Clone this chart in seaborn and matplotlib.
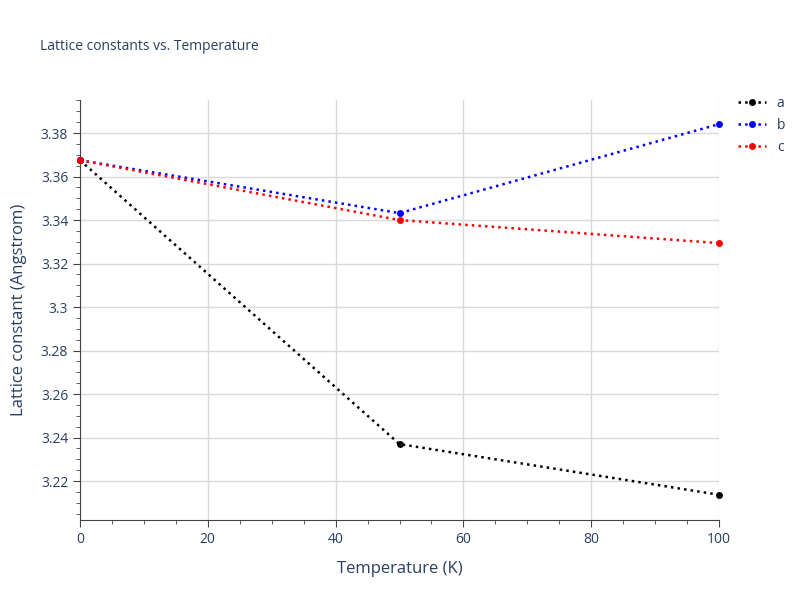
import matplotlib
matplotlib.use("Agg")
import matplotlib.pyplot as plt
import seaborn as sns
import pandas as pd
from matplotlib.ticker import MultipleLocator

temperature = [0, 50, 100]
a_values = [3.3675, 3.237, 3.2137]
b_values = [3.3675, 3.3432, 3.3841]
c_values = [3.3675, 3.3400, 3.3294]

df = pd.DataFrame({
    "T": temperature * 3,
    "value": a_values + b_values + c_values,
    "series": ["a"] * 3 + ["b"] * 3 + ["c"] * 3,
})

sns.set_style("white")
plt.rcParams["font.family"] = ["Open Sans", "DejaVu Sans"]

fig = plt.figure(figsize=(8, 6), dpi=100)
ax = fig.add_axes([80 / 800, 80 / 600, 639 / 800, 420 / 600])

palette = {"a": "black", "b": "blue", "c": "red"}
for name, grp in df.groupby("series"):
    sns.lineplot(data=grp, x="T", y="value", ax=ax, color=palette[name],
                 linestyle=":", linewidth=1.8, marker="o", markersize=5,
                 markeredgewidth=0, label=name, clip_on=False, zorder=3)

ax.set_xlim(0, 100)
ax.set_ylim(3.2021, 3.3952)
ax.xaxis.set_major_locator(MultipleLocator(20))
ax.xaxis.set_minor_locator(MultipleLocator(5))
ax.yaxis.set_major_locator(MultipleLocator(0.02))
ax.yaxis.set_minor_locator(MultipleLocator(0.005))
ax.grid(True, which="major", color="#d9d9d9", linewidth=1)
ax.set_axisbelow(True)
for s in ["top", "right"]:
    ax.spines[s].set_visible(False)
for s in ["left", "bottom"]:
    ax.spines[s].set_color("#444444")
ax.tick_params(which="major", direction="out", length=5, color="#444444",
               labelcolor="#2a3f5f", labelsize=10, left=True, bottom=True)
ax.tick_params(which="minor", direction="out", length=3, color="#444444",
               left=True, bottom=True)
ax.yaxis.set_major_formatter(matplotlib.ticker.FuncFormatter(
    lambda v, p: ("%.2f" % v).rstrip("0").rstrip(".") if abs(v * 100 - round(v * 100)) < 1e-6 else ""))

ax.set_xlabel("Temperature (K)", color="#2a3f5f", fontsize=12, labelpad=10)
ax.set_ylabel("Lattice constant (Angstrom)", color="#2a3f5f", fontsize=12, labelpad=10)
fig.text(40 / 800, 1 - 46 / 600, "Lattice constants vs. Temperature",
         color="#2a3f5f", fontsize=10, va="center")

leg = ax.legend(loc="upper left", bbox_to_anchor=(1.01, 1.04), frameon=False,
                fontsize=10, handlelength=2, labelcolor="#2a3f5f")

fig.savefig("out.png", dpi=100)
